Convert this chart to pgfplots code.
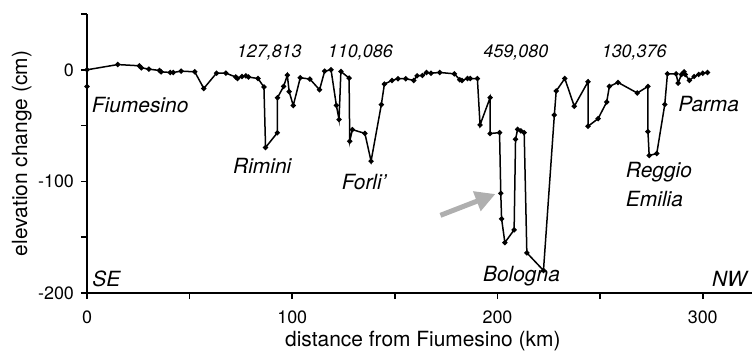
\documentclass[border=0pt]{standalone}
\usepackage{pgfplots}
\pgfplotsset{compat=1.18}
\usepackage{fontspec}
\setmainfont{TeX Gyre Heros}
\usetikzlibrary{arrows.meta}
\definecolor{arrowgray}{RGB}{175,175,175}
\begin{document}
\begin{tikzpicture}
\begin{axis}[
 scale only axis, width=332.5bp, height=139.5bp,
 xmin=0, xmax=324, ymin=-200, ymax=50,
 axis lines*=left,
 axis line style={line width=0.75bp, black},
 tick style={line width=0.75bp, black},
 tick align=outside,
 major tick length=3bp,
 xtick={0,50,...,300}, xticklabels={0,,100,,200,,300},
 ytick={-200,-150,...,50}, yticklabels={-200,,-100,,0,},
 tick label style={font=\fontsize{9}{10}\selectfont},
 xticklabel style={yshift=-2.5bp},
 /pgf/number format/assume math mode=true,
 xlabel={distance from Fiumesino (km)},
 ylabel={elevation change (cm)},
 label style={font=\fontsize{10.5}{12}\selectfont},
 xlabel style={at={(axis description cs:0.505,-0.172)}, anchor=center},
 ylabel style={at={(axis description cs:-0.098,0.5)}, anchor=center},
 clip=false,
]
\addplot[black, line width=0.75bp, mark=*, mark size=0.9bp, mark options={fill=black}] coordinates {
(0,-15) (0,0) (15,4.7) (25.5,3.6) (26.5,1.8) (30.1,0.6) (35.3,-0.6) (36.1,-1.8)
(40.6,-2.4) (42,-2.4) (45.9,-1.2) (52.5,-1.8) (56.9,-16.7) (63.1,-3) (67.7,-3)
(72.5,-6.5) (73.3,-7.8) (75.5,-6) (77.4,-5.4) (78.7,-6.5) (83.3,-7.8) (86.2,-15.4)
(87,-69.6) (92.7,-56.5) (92.8,-25) (95.8,-14.9) (97.6,-4.8) (98.5,-19.6) (100.5,-32)
(103.9,-7.1) (108.6,-8.3) (113.3,-17.9) (115.8,-1.2) (118.9,0) (121.5,-31.9) (122.8,-44.6)
(123.7,-1.5) (127.7,-7.4) (128,-64) (129.3,-53.6) (135.4,-57) (138.4,-81.9) (143.4,-31.2)
(144.9,-12.8) (148.6,-9.5) (151.5,-8) (155.3,-8) (159.2,-9.5) (160.8,-5.4) (163.4,-5.1)
(165.4,-2.4) (167.6,-3) (171.9,-2.4) (179,-3.6) (181.6,-8.9) (182.7,-9.5) (185.4,-7.8)
(186.7,-7.8) (190.2,-7.8) (191.5,-49.4) (196.4,-25) (196.4,-57.1) (201,-56.3) (201.6,-110.7)
(202,-133.6) (203.6,-154.8) (208.1,-143.4) (208.8,-62.2) (209.8,-53.3) (211.4,-54.8) (213,-56.3)
(214.3,-164) (222.4,-179.8) (227.7,-40.5) (228.6,-19) (232.8,-7.8) (237.4,-32.7) (244.1,-10.7)
(244.1,-50.6) (249,-43.8) (253.2,-28.9) (254.5,-14.9) (258.7,-11.3) (268.1,-20.8) (273.3,-14.9)
(273.3,-55.4) (273.9,-76.8) (277.6,-75) (281.5,-31) (282.8,-3.6) (287,-3.6) (288,-11.9)
(289.6,-4.2) (290.9,-1.8) (291.5,-4.2) (293.5,-9.5) (295.8,-6) (298,-4.2) (300,-3) (302.3,-2.4)
};
\draw[arrowgray, line width=2.5bp, -{Triangle[length=10bp,width=10bp]}] (axis cs:172.2,-130.4) -- (axis cs:199,-111.3);
\begin{scope}[every node/.style={font=\fontsize{10.5}{14.5}\selectfont\itshape, inner sep=0pt}]
\node at (axis cs:25.9,-31.7) {Fiumesino};
\node at (axis cs:85.4,-86) {Rimini};
\node at (axis cs:135,-101) {Forli'};
\node at (axis cs:211.7,-185) {Bologna};
\node[anchor=west, align=left] at (axis cs:262.4,-103) {Reggio\\Emilia};
\node at (axis cs:302.9,-30.8) {Parma};
\node at (axis cs:9.4,-187) {SE};
\node at (axis cs:313,-187) {NW};
\end{scope}
\begin{scope}[every node/.style={font=\fontsize{9}{10}\selectfont\itshape, inner sep=0pt}]
\node at (axis cs:88.8,15.6) {127,813};
\node at (axis cs:133.2,15.6) {110,086};
\node at (axis cs:209,15.6) {459,080};
\node at (axis cs:266.6,15.6) {130,376};
\end{scope}
\coordinate (SW) at (rel axis cs:0,0);
\coordinate (NE) at (rel axis cs:1,1);
\end{axis}
\pgfresetboundingbox
\useasboundingbox ([xshift=-43.5bp,yshift=-31bp]SW) rectangle ([yshift=7bp]NE);
\end{tikzpicture}
\end{document}
